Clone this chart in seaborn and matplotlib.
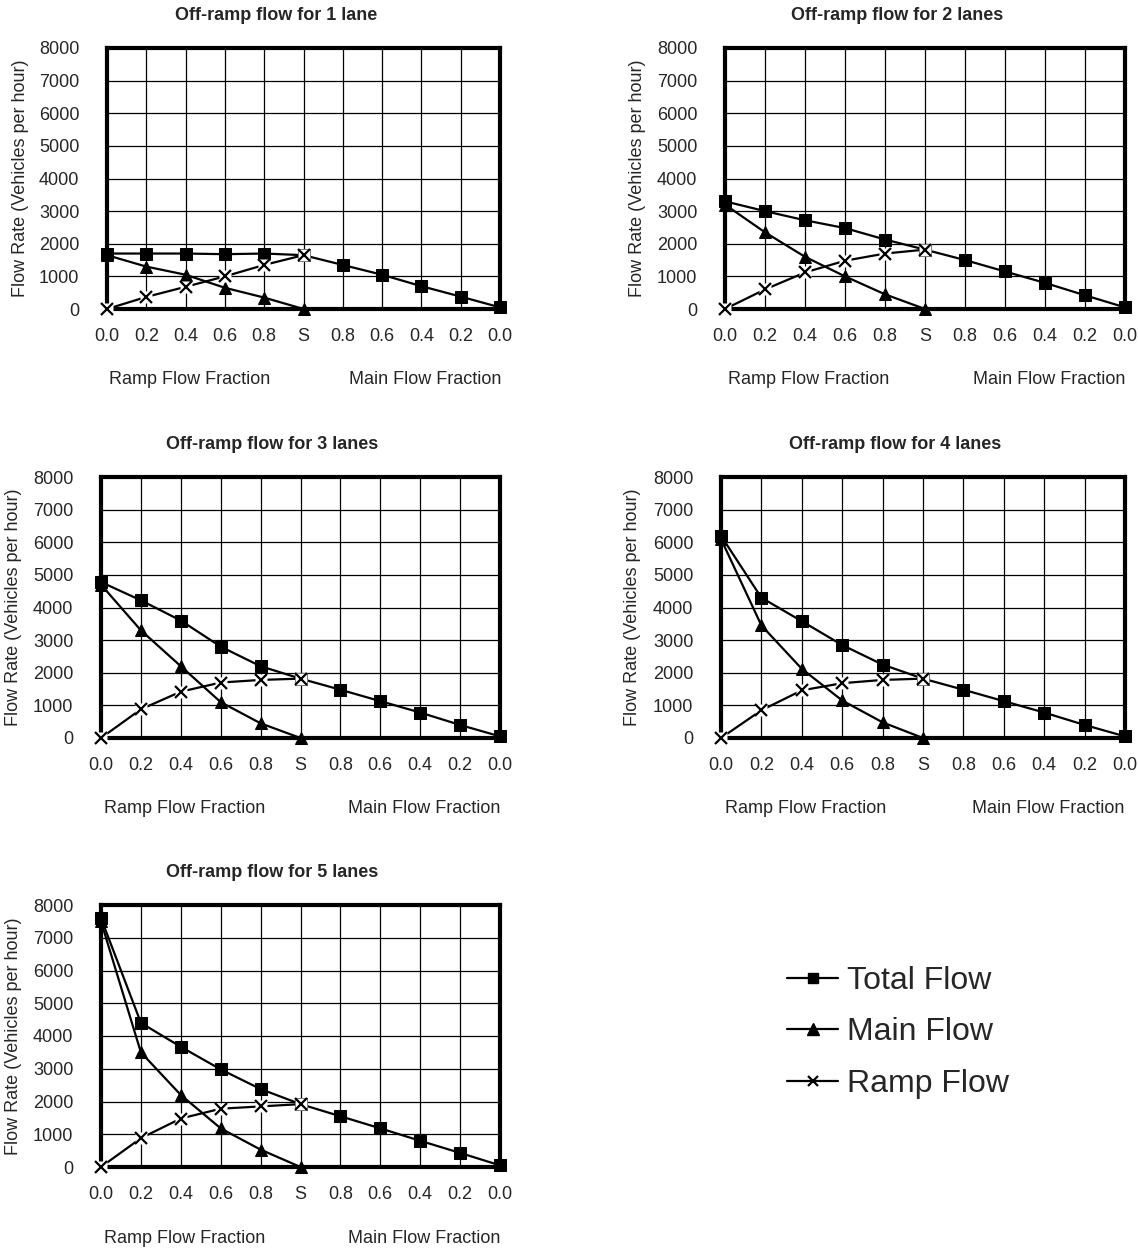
import numpy as np
import pandas as pd
import matplotlib
matplotlib.use("Agg")
import matplotlib.pyplot as plt
from matplotlib.lines import Line2D
import seaborn as sns

# x categories: ramp fraction up to the split point S, then main fraction back down
tick_labels = ["0.0", "0.2", "0.4", "0.6", "0.8", "S", "0.8", "0.6", "0.4", "0.2", "0.0"]
positions = list(range(len(tick_labels)))
ramp_side = positions[:6]

titles = ["Off-ramp flow for 1 lane", "Off-ramp flow for 2 lanes", "Off-ramp flow for 3 lanes",
          "Off-ramp flow for 4 lanes", "Off-ramp flow for 5 lanes"]

# values (vehicles per hour)
total_1 = [1700, 1700, 1700, 1680, 1700, 1650, 1350, 1050, 700, 380, 50]
main_1 = [1650, 1300, 1050, 650, 350, 0]
ramp_1 = [0, 370, 680, 1000, 1350, 1650]

total_2 = [3300, 3000, 2720, 2480, 2130, 1820, 1500, 1150, 800, 420, 50]
main_2 = [3200, 2350, 1600, 1000, 450, 0]
ramp_2 = [0, 600, 1120, 1480, 1700, 1820]

total_3 = [4780, 4220, 3600, 2800, 2200, 1820, 1480, 1130, 780, 400, 50]
main_3 = [4700, 3300, 2200, 1100, 450, 0]
ramp_3 = [0, 880, 1420, 1700, 1780, 1820]

total_4 = [6200, 4300, 3580, 2850, 2250, 1820, 1480, 1130, 780, 400, 50]
main_4 = [6100, 3450, 2120, 1150, 480, 0]
ramp_4 = [0, 850, 1460, 1680, 1780, 1820]

total_5 = [7600, 4400, 3670, 2980, 2380, 1920, 1550, 1180, 800, 430, 50]
main_5 = [7500, 3500, 2200, 1180, 530, 0]
ramp_5 = [0, 880, 1480, 1780, 1850, 1920]

totals = [total_1, total_2, total_3, total_4, total_5]
mains = [main_1, main_2, main_3, main_4, main_5]
ramps = [ramp_1, ramp_2, ramp_3, ramp_4, ramp_5]

sns.set_style("white")
plt.rcParams["font.family"] = ["Liberation Sans", "DejaVu Sans"]

W, H = 1138, 1249
fig = plt.figure(figsize=(W / 100, H / 100), dpi=100)

# axes boxes in pixels: left, top, right, bottom
boxes = [(107, 48, 500, 309), (725, 48, 1125, 309),
         (101, 477, 500, 738), (721, 477, 1125, 738),
         (101, 905, 500, 1167)]

fs = 13
for i, (l, t, r, b) in enumerate(boxes):
    ax = fig.add_axes([l / W, 1 - b / H, (r - l) / W, (b - t) / H])

    sns.lineplot(x=positions, y=totals[i], color="black", lw=1.6, marker="s", ms=8,
                 mec="black", ax=ax, clip_on=False, zorder=3)
    sns.lineplot(x=ramp_side, y=mains[i], color="black", lw=1.6, marker="^", ms=9,
                 mec="black", ax=ax, clip_on=False, zorder=3)
    sns.lineplot(x=ramp_side, y=ramps[i], color="black", lw=1.6, ax=ax,
                 clip_on=False, zorder=3)
    # Excel-style x marker sits on a white box
    ax.plot(ramp_side, ramps[i], ls="none", marker="s", ms=9, mfc="white", mec="none",
            clip_on=False, zorder=4)
    ax.plot(ramp_side, ramps[i], ls="none", marker="x", ms=9, mew=1.6, color="black",
            clip_on=False, zorder=5)

    ax.set_xlim(0, 10)
    ax.set_ylim(0, 8000)
    ax.set_xticks(positions)
    ax.set_xticklabels(tick_labels)
    ax.set_yticks(np.arange(0, 8001, 1000))
    ax.tick_params(axis="both", length=0, labelsize=fs)
    ax.tick_params(axis="x", pad=14)
    ax.tick_params(axis="y", pad=20)
    ax.grid(True, color="black", lw=0.9)
    ax.set_axisbelow(True)
    for sp in ax.spines.values():
        sp.set_visible(True)
        sp.set_color("black")
        sp.set_linewidth(3)
    ax.set_xlabel("")
    ax.set_ylabel("")

    ax.text(0.43, 1.123, titles[i], transform=ax.transAxes, ha="center", va="center",
            fontsize=fs, fontweight="bold")
    ax.text(-0.22, 0.5, "Flow Rate (Vehicles per hour)", transform=ax.transAxes,
            rotation=90, ha="center", va="center", fontsize=fs)
    ax.text(0.21, -0.272, "Ramp Flow Fraction", transform=ax.transAxes,
            ha="center", va="center", fontsize=fs)
    ax.text(0.81, -0.272, "Main Flow Fraction", transform=ax.transAxes,
            ha="center", va="center", fontsize=fs)

handles = [
    Line2D([], [], color="black", lw=1.6, marker="s", ms=7),
    Line2D([], [], color="black", lw=1.6, marker="^", ms=8),
    Line2D([], [], color="black", lw=1.6, marker="x", ms=7, mew=1.6),
]
fig.legend(handles, ["Total Flow", "Main Flow", "Ramp Flow"], loc="upper left",
           bbox_to_anchor=(787 / W, 1 - 966 / H), frameon=False, fontsize=23,
           handlelength=1.6, handletextpad=0.28, labelspacing=0.67, borderpad=0,
           borderaxespad=0)

fig.savefig("out.png", dpi=100)
